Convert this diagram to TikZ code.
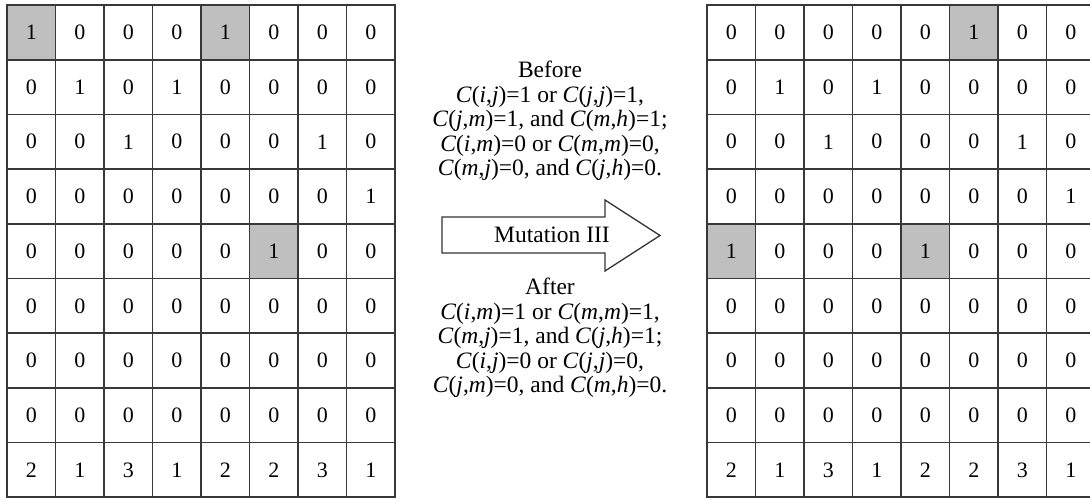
\documentclass[tikz,border=0pt]{standalone}
\usepackage{fontspec}
\setmainfont{Liberation Serif}
\usetikzlibrary{positioning}
\tikzset{
  cell/.style={draw=black!78, line width=1.7pt, minimum width=48.5pt,
    minimum height=54.7pt, inner sep=0pt, font=\fontsize{22}{26}\selectfont},
  cond/.style={align=center, inner sep=0pt, font=\fontsize{23.5}{24.6}\selectfont},
}
\newcommand{\cij}[2]{\textit{C}(\textit{#1},\textit{#2})}
\begin{document}
\begin{tikzpicture}[x=1pt,y=-1pt]
  \useasboundingbox (0,0) rectangle (1090,500);
  % shaded entries
  \foreach \r/\c in {0/0,0/4,4/5}
    \fill[black!25] ({7+48.5*\c},{5+54.7*\r}) rectangle +(48.5,54.7);
  \foreach \r/\c in {0/5,4/0,4/4}
    \fill[black!25] ({707+48.5*\c},{5+54.7*\r}) rectangle +(48.5,54.7);
  % matrix before mutation
  \foreach \row [count=\r from 0] in {{1,0,0,0,1,0,0,0},{0,1,0,1,0,0,0,0},
      {0,0,1,0,0,0,1,0},{0,0,0,0,0,0,0,1},{0,0,0,0,0,1,0,0},{0,0,0,0,0,0,0,0},
      {0,0,0,0,0,0,0,0},{0,0,0,0,0,0,0,0},{2,1,3,1,2,2,3,1}}{
    \foreach \v [count=\c from 0] in \row
      \node[cell] (L-\r-\c) at ({31.25+48.5*\c},{32.35+54.7*\r}) {\v};
  }
  % matrix after mutation
  \foreach \row [count=\r from 0] in {{0,0,0,0,0,1,0,0},{0,1,0,1,0,0,0,0},
      {0,0,1,0,0,0,1,0},{0,0,0,0,0,0,0,1},{1,0,0,0,1,0,0,0},{0,0,0,0,0,0,0,0},
      {0,0,0,0,0,0,0,0},{0,0,0,0,0,0,0,0},{2,1,3,1,2,2,3,1}}{
    \foreach \v [count=\c from 0] in \row
      \node[cell] (R-\r-\c) at ({731.25+48.5*\c},{32.35+54.7*\r}) {\v};
  }
  % mutation arrow
  \draw[line width=1.3pt, black!80, fill=white] (442,217) -- (605,217) -- (605,200)
    -- (660,235.5) -- (605,271) -- (605,253) -- (442,253) -- cycle;
  \node[cond] (mut) at (552,235) {Mutation III};
  \node[cond] (before) at (550,121) {Before\\
    \cij{i}{j}=1 or \cij{j}{j}=1,\\
    \cij{j}{m}=1, and \cij{m}{h}=1;\\
    \cij{i}{m}=0 or \cij{m}{m}=0,\\
    \cij{m}{j}=0, and \cij{j}{h}=0.};
  \node[cond] (after) at (550,338) {After\\
    \cij{i}{m}=1 or \cij{m}{m}=1,\\
    \cij{m}{j}=1, and \cij{j}{h}=1;\\
    \cij{i}{j}=0 or \cij{j}{j}=0,\\
    \cij{j}{m}=0, and \cij{m}{h}=0.};
\end{tikzpicture}
\end{document}
